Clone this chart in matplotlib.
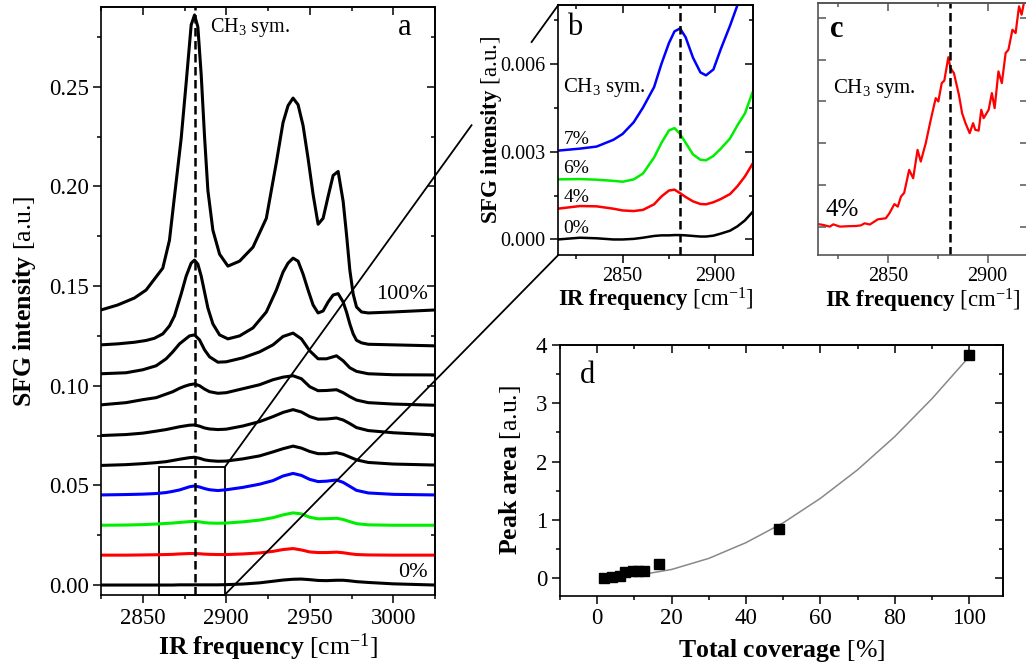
import numpy as np
import matplotlib
matplotlib.use("Agg")
import matplotlib.pyplot as plt
from matplotlib.ticker import MultipleLocator, NullFormatter, FormatStrFormatter
from matplotlib.lines import Line2D
from matplotlib.patches import Rectangle

SERIF = "Liberation Serif"
plt.rcParams["font.family"] = [SERIF, "DejaVu Serif"]
plt.rcParams["mathtext.fontset"] = "custom"
plt.rcParams["mathtext.rm"] = SERIF
plt.rcParams["mathtext.it"] = SERIF + ":italic"
plt.rcParams["mathtext.bf"] = SERIF + ":bold"

# ---- panel a: SFG spectra, offset per coverage ----
# the two strongest spectra are read on a finer grid
freq_top = [2825, 2835, 2845, 2852, 2857, 2862, 2866, 2869, 2873, 2876, 2879, 2881,
            2883, 2885, 2887, 2889, 2892, 2896, 2901, 2908, 2916, 2924, 2930, 2934,
            2937, 2940, 2943, 2946, 2949, 2952, 2955, 2958, 2961, 2964, 2967, 2970,
            2972, 2974, 2976, 2978, 2981, 2985, 3000, 3025]
spec_100 = [0.138, 0.1405, 0.144, 0.148, 0.1535, 0.159, 0.173, 0.195, 0.224, 0.252, 0.281, 0.286,
            0.280, 0.256, 0.225, 0.198, 0.178, 0.166, 0.160, 0.1625, 0.1695, 0.184, 0.212, 0.232,
            0.2405, 0.2443, 0.241, 0.2305, 0.214, 0.196, 0.181, 0.184, 0.195, 0.2055, 0.2075, 0.1925,
            0.176, 0.158, 0.146, 0.1395, 0.137, 0.1365, 0.137, 0.138]
spec_2 = [0.1205, 0.121, 0.1218, 0.1227, 0.1238, 0.126, 0.130, 0.135, 0.146, 0.155, 0.1615, 0.163,
          0.161, 0.155, 0.147, 0.139, 0.131, 0.1255, 0.1235, 0.125, 0.129, 0.137, 0.148, 0.157,
          0.1615, 0.164, 0.1625, 0.156, 0.148, 0.1405, 0.1365, 0.1375, 0.142, 0.1455, 0.1462, 0.142,
          0.137, 0.131, 0.126, 0.1228, 0.1215, 0.1208, 0.1205, 0.120]

freq_a = [2825, 2840, 2850, 2858, 2864, 2868, 2872, 2875, 2878, 2881, 2884, 2887,
          2890, 2895, 2900, 2910, 2920, 2928, 2934, 2940, 2945, 2950, 2955, 2960,
          2966, 2970, 2974, 2978, 2985, 3000, 3025]
spec_3 = [0.106, 0.1065, 0.108, 0.110, 0.1135, 0.117, 0.121, 0.123, 0.125, 0.1255, 0.123, 0.118,
          0.1145, 0.1118, 0.112, 0.114, 0.117, 0.1205, 0.1247, 0.1264, 0.1235, 0.1175, 0.1135, 0.1135,
          0.115, 0.1125, 0.109, 0.1072, 0.106, 0.1055, 0.1054]
spec_4 = [0.0904, 0.0915, 0.093, 0.094, 0.0958, 0.097, 0.0987, 0.0997, 0.1005, 0.1009, 0.100, 0.0983,
          0.097, 0.0962, 0.0965, 0.0985, 0.1005, 0.103, 0.1043, 0.105, 0.1035, 0.0995, 0.0975, 0.0976,
          0.098, 0.0965, 0.0945, 0.0928, 0.0915, 0.0908, 0.0902]
spec_5 = [0.075, 0.0755, 0.0762, 0.0772, 0.078, 0.0787, 0.0794, 0.0798, 0.0802, 0.0803, 0.0797, 0.0788,
          0.0783, 0.078, 0.0782, 0.0798, 0.082, 0.0845, 0.0866, 0.088, 0.0868, 0.0845, 0.0832, 0.0833,
          0.0838, 0.0828, 0.081, 0.079, 0.0775, 0.0764, 0.0753]
spec_6 = [0.060, 0.0604, 0.0609, 0.0614, 0.0619, 0.0625, 0.0631, 0.0635, 0.0639, 0.0641, 0.0636, 0.0628,
          0.0624, 0.0621, 0.0622, 0.0633, 0.0648, 0.0668, 0.0684, 0.0697, 0.0687, 0.067, 0.0659, 0.0659,
          0.0664, 0.0656, 0.0642, 0.0628, 0.0615, 0.0607, 0.0602]
spec_7pc = [0.0452, 0.0454, 0.0456, 0.0459, 0.0464, 0.047, 0.0477, 0.0485, 0.0493, 0.0497, 0.0492, 0.0484,
            0.0478, 0.0474, 0.0478, 0.049, 0.0506, 0.0524, 0.0547, 0.056, 0.055, 0.053, 0.0519, 0.0521,
            0.0527, 0.0515, 0.0495, 0.0475, 0.0462, 0.0455, 0.0452]
spec_6pc = [0.030, 0.0301, 0.0303, 0.0306, 0.0309, 0.0311, 0.0314, 0.0316, 0.0318, 0.0319, 0.0317, 0.0313,
            0.0311, 0.031, 0.0311, 0.0317, 0.0326, 0.0338, 0.0352, 0.0362, 0.0357, 0.034, 0.0332, 0.0333,
            0.0335, 0.0329, 0.0318, 0.0308, 0.0302, 0.030, 0.030]
spec_4pc = [0.015, 0.015, 0.0151, 0.0152, 0.0153, 0.0154, 0.0156, 0.0157, 0.0158, 0.0158, 0.0157, 0.0155,
            0.0154, 0.0153, 0.0153, 0.0156, 0.0161, 0.0169, 0.0178, 0.0183, 0.0176, 0.0166, 0.0163, 0.0163,
            0.0165, 0.0162, 0.0157, 0.0153, 0.0151, 0.015, 0.015]
spec_0 = [0.0, 0.0, 0.0, 0.0, 0.0, 0.0, 0.0001, 0.0001, 0.0001, 0.0001, 0.0001, 0.0001,
          0.0001, 0.0001, 0.0002, 0.0005, 0.0011, 0.0019, 0.0025, 0.0029, 0.003, 0.0027, 0.0023, 0.0022,
          0.0024, 0.0024, 0.0021, 0.0017, 0.0013, 0.0006, 0.0]

spectra_top = [spec_100, spec_2]
spectra_a = [spec_3, spec_4, spec_5, spec_6, spec_7pc, spec_6pc, spec_4pc, spec_0]
colors_a = ["black"] * 4 + ["blue", "#00ee00", "red", "black"]

# ---- panel b: zoom of the low coverage spectra ----
freq_b = [2815, 2827, 2836, 2845, 2850, 2856, 2861, 2867, 2871, 2875, 2878, 2881,
          2884, 2888, 2892, 2895, 2899, 2903, 2908, 2912, 2916, 2920]
b_7 = [0.00303, 0.0031, 0.00317, 0.0034, 0.0036, 0.0040, 0.0045, 0.0052, 0.0060, 0.0067, 0.0071, 0.0072,
       0.0069, 0.0062, 0.0057, 0.0056, 0.0058, 0.0065, 0.0073, 0.0080, 0.0087, 0.0095]
b_6 = [0.00205, 0.00206, 0.00204, 0.0020, 0.00197, 0.00205, 0.00225, 0.0028, 0.0033, 0.00372, 0.0038, 0.0036,
       0.0033, 0.0029, 0.00272, 0.0027, 0.00285, 0.0031, 0.00345, 0.0039, 0.0043, 0.0050]
b_4 = [0.00105, 0.00114, 0.00113, 0.00105, 0.00099, 0.00097, 0.00101, 0.0012, 0.00147, 0.00167, 0.0017, 0.00158,
       0.00145, 0.0013, 0.00121, 0.0012, 0.00127, 0.00138, 0.00155, 0.00182, 0.00215, 0.00257]
b_0 = [0.0, 0.00006, 0.00004, 0.0, 0.0, 0.00002, 0.00006, 0.00012, 0.00014, 0.00014, 0.00015, 0.00015,
       0.00014, 0.00012, 0.0001, 0.0001, 0.00013, 0.0002, 0.0003, 0.00045, 0.00065, 0.00093]
spectra_b = [b_7, b_6, b_4, b_0]
colors_b = ["blue", "#00ee00", "red", "black"]
labels_b = ["7%", "6%", "4%", "0%"]

# ---- panel c: raw 4% spectrum ----
freq_c = [2815.2, 2817.7, 2821, 2822.7, 2826, 2830, 2834, 2836.5, 2838.4, 2841, 2845, 2849,
          2850.8, 2853.3, 2855, 2856.6, 2858.2, 2860.7, 2862.7, 2864.9, 2866.5, 2869, 2871.5, 2874,
          2875.3, 2877, 2878.3, 2880.3, 2881.4, 2883.1, 2885.6, 2887.2, 2888.9, 2891, 2892.7, 2893.8,
          2895.5, 2896.8, 2898, 2900.5, 2902.1, 2903.5, 2905.4, 2907.1, 2909, 2910.4, 2912.4, 2914,
          2915.7, 2917, 2918.3, 2920]
sig_c = [0.06, 0.04, 0.0, 0.055, 0.0, 0.01, 0.015, 0.03, 0.08, 0.05, 0.175, 0.2,
         0.32, 0.54, 0.48, 0.72, 0.81, 1.36, 1.16, 1.84, 1.56, 2.0, 2.56, 3.08,
         3.0, 3.44, 3.5, 4.06, 3.8, 3.68, 3.16, 2.72, 2.48, 2.24, 2.48, 2.32,
         2.3, 2.8, 2.6, 2.8, 3.2, 2.84, 3.72, 3.44, 4.16, 4.24, 4.72, 4.64,
         5.28, 5.08, 5.4, 5.6]

# ---- panel d: CH3 peak area vs coverage ----
coverage = [1.7, 4, 6, 7.5, 9.5, 11, 12.5, 16.5, 49, 100]
peak_area = [0.0, 0.02, 0.03, 0.1, 0.12, 0.12, 0.12, 0.25, 0.85, 3.82]
fit_cov = [2, 10, 20, 30, 40, 50, 60, 70, 80, 90, 100]
fit_area = [0.0015, 0.04, 0.15, 0.34, 0.61, 0.95, 1.37, 1.86, 2.43, 3.08, 3.80]

CH3_POS = 2881

W, H = 1026, 668
fig = plt.figure(figsize=(W / 100, H / 100), dpi=100)


def frac(l, t, r, b):
    return [l / W, 1 - b / H, (r - l) / W, (b - t) / H]


def style(ax, xmaj, xmin, ymaj, ymin, lsize, left_dir="out", spine_col="black"):
    ax.set_facecolor("none")
    ax.xaxis.set_major_locator(MultipleLocator(xmaj))
    ax.xaxis.set_minor_locator(MultipleLocator(xmin))
    ax.yaxis.set_major_locator(MultipleLocator(ymaj))
    ax.yaxis.set_minor_locator(MultipleLocator(ymin))
    ax.tick_params(axis="x", which="both", direction="out", labelsize=lsize, width=1.1,
                   labelfontfamily=SERIF, color=spine_col)
    ax.tick_params(axis="y", which="both", direction=left_dir, labelsize=lsize, width=1.1,
                   labelfontfamily=SERIF, color=spine_col)
    ax.tick_params(which="major", length=5.5)
    ax.tick_params(which="minor", length=3)
    for s in ax.spines.values():
        s.set_linewidth(1.2)
        s.set_color(spine_col)
    sx = ax.secondary_xaxis("top")
    sx.xaxis.set_major_locator(MultipleLocator(xmaj))
    sx.xaxis.set_minor_locator(MultipleLocator(xmin))
    sx.tick_params(which="both", direction="in", labeltop=False, width=1.1, color=spine_col)
    sx.tick_params(which="major", length=5.5)
    sx.tick_params(which="minor", length=3)
    sx.spines["top"].set_linewidth(1.2)
    sx.spines["top"].set_color(spine_col)
    sy = ax.secondary_yaxis("right")
    sy.yaxis.set_major_locator(MultipleLocator(ymaj))
    sy.yaxis.set_minor_locator(MultipleLocator(ymin))
    sy.tick_params(which="both", direction="in", labelright=False, width=1.1, color=spine_col)
    sy.tick_params(which="major", length=5.5)
    sy.tick_params(which="minor", length=3)
    sy.spines["right"].set_linewidth(1.2)
    sy.spines["right"].set_color(spine_col)


xlab = r"$\mathbf{IR\ frequency}$ [cm$^{\mathrm{-1}}$]"
ylab = r"$\mathbf{SFG\ intensity}$ [a.u.]"
dash = (0, (3.4, 1.8))

# ---------------- panel a ----------------
axa = fig.add_axes(frac(101, 7, 435, 595))
for ys in spectra_top:
    axa.plot(freq_top, ys, color="black", lw=2.2, solid_joinstyle="round")
for ys, c in zip(spectra_a, colors_a):
    axa.plot(freq_a, ys, color=c, lw=2.2, solid_joinstyle="round")
axa.axvline(CH3_POS, color="black", lw=1.8, ls=dash)
axa.set_xlim(2825, 3025)
axa.set_ylim(-0.005, 0.29)
style(axa, 50, 25, 0.05, 0.025, 16.5)
axa.yaxis.set_major_formatter(FormatStrFormatter("%.2f"))
axa.set_xlabel(xlab, fontsize=18.5)
axa.set_ylabel(ylab, fontsize=18.5)
axa.yaxis.set_label_coords(-0.19, 0.5)
axa.xaxis.set_label_coords(0.5, -0.062)
axa.text(2890, 0.2796, r"CH$_3$ sym.", fontsize=14.5, va="center", ha="left")
axa.text(3007, 0.2796, "a", fontsize=22, va="center", ha="center")
axa.text(3005, 0.1456, "100%", fontsize=16, va="center", ha="center")
axa.text(3011.5, 0.0065, "0%", fontsize=16, va="center", ha="center")
zoom_box = Rectangle((2860, -0.005), 39, 0.064, fill=False, lw=1.3, ec="black", clip_on=False)
axa.add_patch(zoom_box)

# ---------------- panel b ----------------
axb = fig.add_axes(frac(558.3, 5, 752.7, 255))
for ys, c in zip(spectra_b, colors_b):
    axb.plot(freq_b, ys, color=c, lw=1.8)
axb.axvline(CH3_POS, color="black", lw=1.8, ls=dash)
axb.set_xlim(2815.3, 2920.2)
axb.set_ylim(-0.00053, 0.008)
style(axb, 50, 25, 0.003, 0.0015, 14.5)
axb.yaxis.set_major_formatter(FormatStrFormatter("%.3f"))
axb.set_xlabel(xlab, fontsize=16.5)
axb.set_ylabel(ylab, fontsize=16.5)
axb.yaxis.set_label_coords(-0.28, 0.5)
axb.xaxis.set_label_coords(0.5, -0.125)
for ys, lab in zip(spectra_b, labels_b):
    axb.text(2818, ys[0] + 0.00038, lab, fontsize=14, va="center", ha="left")
axb.text(2818, 0.0052, r"CH$_3$ sym.", fontsize=15, va="center", ha="left")
axb.text(2824.3, 0.00724, "b", fontsize=22, va="center", ha="center")

# ---------------- panel c ----------------
axc = fig.add_axes(frac(818.3, 3, 1027.6, 255))
axc.plot(freq_c, sig_c, color="red", lw=1.6)
axc.axvline(CH3_POS, color="black", lw=1.8, ls=dash)
axc.set_xlim(2815.2, 2920)
axc.set_ylim(-0.68, 5.36)
style(axc, 50, 25, 1, 1, 14.5, left_dir="in", spine_col="#555555")
axc.yaxis.set_major_formatter(NullFormatter())
axc.set_xlabel(xlab, fontsize=16.5)
axc.xaxis.set_label_coords(0.5, -0.125)
axc.text(2824.5, 4.72, "c", fontsize=22, va="center", ha="center", fontweight="bold")
axc.text(2822.4, 3.32, r"CH$_3$ sym.", fontsize=15, va="center", ha="left")
axc.text(2819, 0.4, "4%", fontsize=18, va="center", ha="left")

# ---------------- panel d ----------------
axd = fig.add_axes(frac(560, 345, 1002.7, 595.7))
axd.plot(fit_cov, fit_area, color="#888888", lw=1.1)
axd.plot(coverage, peak_area, ls="none", marker="s", ms=7, color="black")
axd.set_xlim(-10, 109)
axd.set_ylim(-0.3, 4)
style(axd, 20, 10, 1, 0.5, 16.5)
axd.set_xlabel(r"$\mathbf{Total\ coverage}$ [%]", fontsize=18.5)
axd.set_ylabel(r"$\mathbf{Peak\ area}$ [a.u.]", fontsize=18.5)
axd.yaxis.set_label_coords(-0.084, 0.5)
axd.xaxis.set_label_coords(0.5, -0.165)
axd.text(-2.7, 3.48, "d", fontsize=22, va="center", ha="center")

# ---------------- connector lines from box in a to panel b ----------------
to_fig = fig.transFigure.inverted()
p_top0 = to_fig.transform(axa.transData.transform((2899, 0.059)))
p_top1 = to_fig.transform(axb.transAxes.transform((0, 1)))
p_bot0 = to_fig.transform(axa.transData.transform((2899, -0.005)))
p_bot1 = to_fig.transform(axb.transAxes.transform((0, 0)))


def seg(p0, p1, t0, t1):
    a = p0 + (p1 - p0) * t0
    b = p0 + (p1 - p0) * t1
    fig.add_artist(Line2D([a[0], b[0]], [a[1], b[1]], transform=fig.transFigure,
                          color="black", lw=1.3, zorder=5))


seg(p_top0, p_top1, 0.0, 0.74)
seg(p_top0, p_top1, 0.92, 1.0)
seg(p_bot0, p_bot1, 0.0, 1.0)

fig.savefig("out.png", dpi=100)
